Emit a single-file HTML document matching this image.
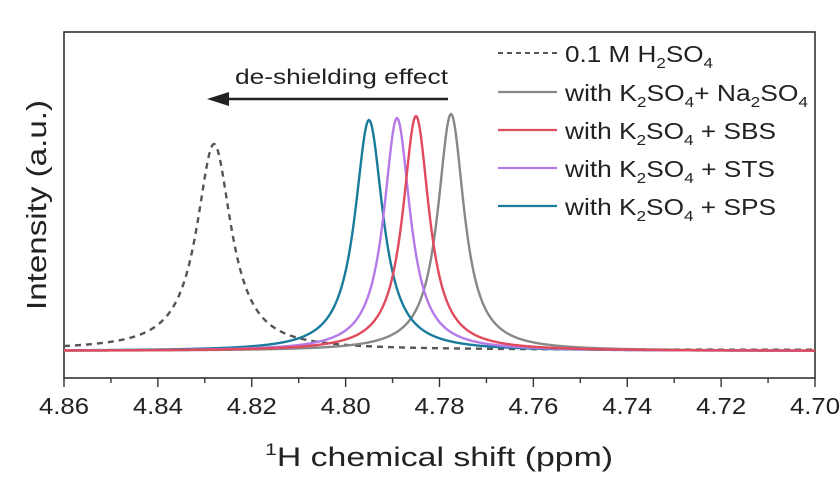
<!DOCTYPE html>
<html><head><meta charset="utf-8"><style>
body{margin:0;background:#fff}
svg text{font-family:"Liberation Sans",Arial,sans-serif;fill:#222}
</style></head><body>
<svg id="s" width="840" height="473" xmlns="http://www.w3.org/2000/svg">
<rect x="64" y="32" width="751" height="346" fill="none" stroke="#333" stroke-width="1.6"/>
<g id="ticks" stroke="#333" stroke-width="1.4"></g>
<g font-size="23" text-anchor="middle" id="tl"></g>
<text x="265" y="466" font-size="27" textLength="348" lengthAdjust="spacingAndGlyphs"><tspan font-size="17" dy="-11">1</tspan><tspan dy="11">H chemical shift (ppm)</tspan></text>
<text transform="translate(46,205) rotate(-90)" font-size="28" text-anchor="middle" textLength="210" lengthAdjust="spacingAndGlyphs">Intensity (a.u.)</text>
<text x="235" y="84" font-size="21" textLength="213" lengthAdjust="spacingAndGlyphs">de-shielding effect</text>
<line x1="448" y1="99" x2="222" y2="99" stroke="#222" stroke-width="2.5"/>
<polygon points="207,99 229,92 229,106" fill="#222"/>
<g id="curves" fill="none" stroke-width="2.4"></g>
<g font-size="23">
<line x1="498" y1="53" x2="557" y2="53" stroke="#555" stroke-width="2" stroke-dasharray="5,4"/>
<text x="565" y="62" textLength="148" lengthAdjust="spacingAndGlyphs">0.1 M H<tspan font-size="15" dy="6">2</tspan><tspan dy="-6">SO</tspan><tspan font-size="15" dy="6">4</tspan></text>
<line x1="498" y1="92" x2="557" y2="92" stroke="#888" stroke-width="2.2"/>
<text x="565" y="101" textLength="243" lengthAdjust="spacingAndGlyphs">with K<tspan font-size="15" dy="6">2</tspan><tspan dy="-6">SO</tspan><tspan font-size="15" dy="6">4</tspan><tspan dy="-6">+ Na</tspan><tspan font-size="15" dy="6">2</tspan><tspan dy="-6">SO</tspan><tspan font-size="15" dy="6">4</tspan></text>
<line x1="498" y1="130" x2="557" y2="130" stroke="#e04a5c" stroke-width="2.2"/>
<text x="565" y="139" textLength="211" lengthAdjust="spacingAndGlyphs">with K<tspan font-size="15" dy="6">2</tspan><tspan dy="-6">SO</tspan><tspan font-size="15" dy="6">4</tspan><tspan dy="-6"> + SBS</tspan></text>
<line x1="498" y1="168" x2="557" y2="168" stroke="#b57ae8" stroke-width="2.2"/>
<text x="565" y="177" textLength="210" lengthAdjust="spacingAndGlyphs">with K<tspan font-size="15" dy="6">2</tspan><tspan dy="-6">SO</tspan><tspan font-size="15" dy="6">4</tspan><tspan dy="-6"> + STS</tspan></text>
<line x1="498" y1="206" x2="557" y2="206" stroke="#1a7c9c" stroke-width="2.2"/>
<text x="565" y="215" textLength="211" lengthAdjust="spacingAndGlyphs">with K<tspan font-size="15" dy="6">2</tspan><tspan dy="-6">SO</tspan><tspan font-size="15" dy="6">4</tspan><tspan dy="-6"> + SPS</tspan></text>
</g>
</svg>
<script>
var NS="http://www.w3.org/2000/svg";
var t=document.getElementById("ticks"),tl=document.getElementById("tl");
var labs=["4.86","4.84","4.82","4.80","4.78","4.76","4.74","4.72","4.70"];
for(var i=0;i<=16;i++){var x=64+i*751/16;var l=document.createElementNS(NS,"line");
l.setAttribute("x1",x);l.setAttribute("x2",x);l.setAttribute("y1",378);l.setAttribute("y2",i%2?383:387);t.appendChild(l);
if(i%2==0){var tx=document.createElementNS(NS,"text");tx.setAttribute("x",x);tx.setAttribute("y",414);tx.setAttribute("textLength",50);tx.setAttribute("lengthAdjust","spacingAndGlyphs");tx.textContent=labs[i/2];tl.appendChild(tx);}}
var c=document.getElementById("curves");
function curve(x0,yp,base,w,col,dash){var d="";for(var x=64;x<=815;x+=1){var y=base-(base-yp)/(1+Math.pow((x-x0)/w,2));d+=(x==64?"M":"L")+x+","+y.toFixed(2);}
var p=document.createElementNS(NS,"path");p.setAttribute("d",d);p.setAttribute("stroke",col);if(dash)p.setAttribute("stroke-dasharray",dash);c.appendChild(p);}
curve(214,144,350,21,"#555","6,5");
curve(451,114,351,16,"#888");
curve(369,120,351,17,"#1a7c9c");
curve(397,118,351,16,"#b57ae8");
curve(416,116,351,16,"#e04a5c");
</script>
</body></html>
